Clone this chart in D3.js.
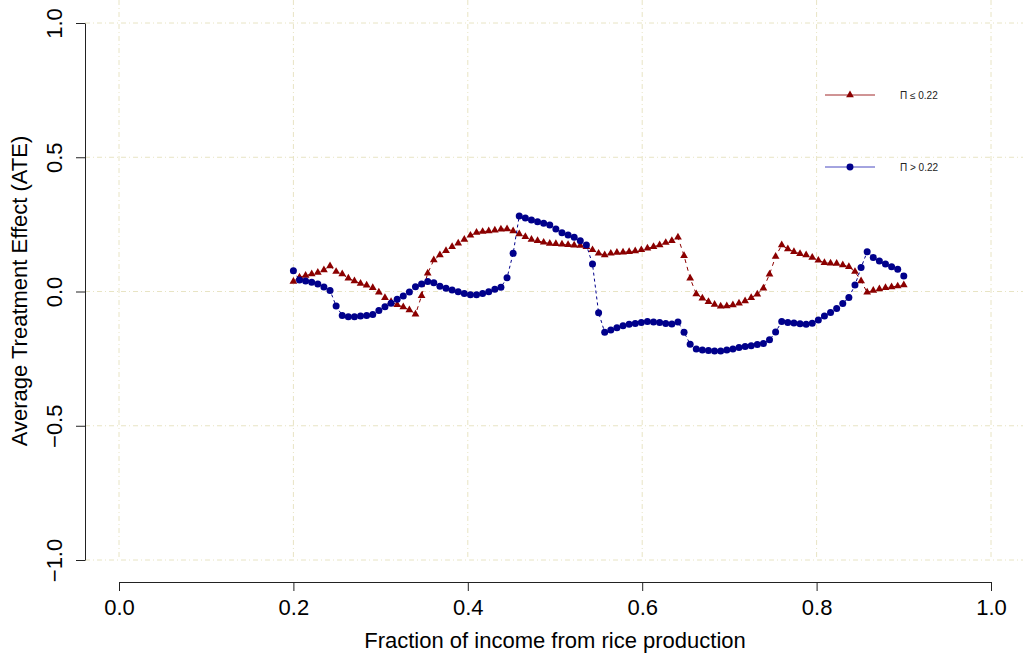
<!DOCTYPE html>
<html>
<head>
<meta charset="utf-8">
<script src="https://cdn.jsdelivr.net/npm/d3@7"></script>
<style>
  body { margin: 0; background: #fff; }
  svg { display: block; font-family: "Liberation Sans", Arial, sans-serif; }
</style>
</head>
<body>
<div id="chart"></div>
<script>
// grid of income fractions (0.2 .. 0.9, 101 evaluation points)
var fracs = d3.range(101).map(function(i){ return +(0.2 + i * 0.007).toFixed(3); });

// ATE for Pi <= 0.22
var ateLow = [
  0.037, 0.053, 0.060, 0.065, 0.071, 0.080, 0.095, 0.074, 0.065, 0.049,
  0.039, 0.030, 0.023, 0.014, -0.003, -0.023, -0.038, -0.049, -0.058, -0.069,
  -0.085, -0.016, 0.068, 0.117, 0.136, 0.152, 0.167, 0.180, 0.194, 0.209,
  0.220, 0.223, 0.225, 0.228, 0.232, 0.233, 0.225, 0.214, 0.204, 0.194,
  0.189, 0.183, 0.179, 0.178, 0.176, 0.174, 0.172, 0.171, 0.167, 0.155,
  0.142, 0.136, 0.142, 0.145, 0.146, 0.148, 0.151, 0.155, 0.161, 0.167,
  0.173, 0.182, 0.189, 0.202, 0.133, 0.049, -0.009, -0.025, -0.038, -0.048,
  -0.055, -0.054, -0.050, -0.044, -0.035, -0.023, -0.010, 0.012, 0.064, 0.130,
  0.173, 0.158, 0.148, 0.141, 0.136, 0.127, 0.116, 0.107, 0.105, 0.104,
  0.099, 0.092, 0.074, 0.039, -0.003, 0.004, 0.009, 0.014, 0.017, 0.020,
  0.024
];

// ATE for Pi > 0.22
var ateHigh = [
  0.077, 0.043, 0.039, 0.034, 0.028, 0.017, 0.004, -0.054, -0.089, -0.094,
  -0.094, -0.091, -0.089, -0.086, -0.071, -0.057, -0.044, -0.029, -0.017, -0.002,
  0.018, 0.028, 0.037, 0.033, 0.020, 0.012, 0.006, -0.001, -0.007, -0.012,
  -0.012, -0.007, -0.001, 0.008, 0.016, 0.051, 0.142, 0.281, 0.274, 0.266,
  0.260, 0.254, 0.248, 0.233, 0.219, 0.210, 0.202, 0.189, 0.173, 0.102,
  -0.079, -0.152, -0.143, -0.135, -0.128, -0.122, -0.119, -0.115, -0.112, -0.114,
  -0.115, -0.119, -0.121, -0.114, -0.152, -0.196, -0.214, -0.218, -0.220, -0.222,
  -0.222, -0.218, -0.214, -0.209, -0.205, -0.202, -0.197, -0.194, -0.180, -0.151,
  -0.112, -0.115, -0.117, -0.120, -0.122, -0.118, -0.106, -0.091, -0.078, -0.063,
  -0.045, -0.022, 0.024, 0.089, 0.148, 0.127, 0.114, 0.102, 0.092, 0.083,
  0.058
];

var xTicks = [0, 0.2, 0.4, 0.6, 0.8, 1.0];
var yTicks = [-1, -0.5, 0, 0.5, 1];
var legendLabels = ["\u03A0 \u2264 0.22", "\u03A0 > 0.22"];

var width = 1023, height = 656;
var red = "#8b0000", blue = "#00008b", gridCol = "#e8e4c4";

var svg = d3.select("#chart").append("svg")
	.attr("width", width)
	.attr("height", height);

var x = d3.scaleLinear().domain([0, 1]).range([119, 991]);
var y = d3.scaleLinear().domain([-1, 1]).range([560, 23]);
var fmt = d3.format(".1f");

// grid
svg.append("g").selectAll("line").data(xTicks).enter().append("line")
	.attr("x1", function(d){ return x(d); })
	.attr("x2", function(d){ return x(d); })
	.attr("y1", 0)
	.attr("y2", y(-1))
	.attr("stroke", gridCol)
	.attr("stroke-dasharray", "5,3,1,3");
svg.append("g").selectAll("line").data(yTicks).enter().append("line")
	.attr("x1", 85)
	.attr("x2", width)
	.attr("y1", function(d){ return y(d); })
	.attr("y2", function(d){ return y(d); })
	.attr("stroke", gridCol)
	.attr("stroke-dasharray", "5,3,1,3");

// axes
var xAxis = svg.append("g")
	.attr("transform", "translate(0,582)")
	.call(d3.axisBottom(x).tickValues(xTicks).tickFormat(fmt).tickSize(9).tickSizeOuter(0));
xAxis.selectAll("text").attr("font-size", 22).attr("fill", "#000").attr("dy", "0.95em");

var yAxis = svg.append("g")
	.attr("transform", "translate(85,0)")
	.call(d3.axisLeft(y).tickValues(yTicks).tickFormat(fmt).tickSize(9).tickSizeOuter(0));
yAxis.selectAll("text")
	.attr("font-size", 22)
	.attr("fill", "#000")
	.attr("text-anchor", "middle")
	.attr("x", null).attr("dy", null)
	.attr("transform", "translate(-23,0) rotate(-90)");
svg.selectAll(".domain, .tick line").attr("stroke", "#222");
svg.selectAll(".tick text").attr("font-family", "Liberation Sans, Arial, sans-serif");

// titles
svg.append("text")
	.attr("x", 555).attr("y", 648)
	.attr("text-anchor", "middle")
	.attr("font-size", 22)
	.text("Fraction of income from rice production");
svg.append("text")
	.attr("transform", "translate(27,291) rotate(-90)")
	.attr("text-anchor", "middle")
	.attr("font-size", 22)
	.text("Average Treatment Effect (ATE)");

var line = d3.line()
	.x(function(d){ return x(d[0]); })
	.y(function(d){ return y(d[1]); });

var lowPts = fracs.map(function(f, i){ return [f, ateLow[i]]; });
var highPts = fracs.map(function(f, i){ return [f, ateHigh[i]]; });

// Pi <= 0.22
svg.append("path").datum(lowPts)
	.attr("d", line)
	.attr("fill", "none")
	.attr("stroke", red)
	.attr("stroke-dasharray", "4,4");
svg.append("g").selectAll("path").data(lowPts).enter().append("path")
	.attr("d", d3.symbol(d3.symbolTriangle, 26))
	.attr("transform", function(d){ return "translate(" + x(d[0]) + "," + y(d[1]) + ")"; })
	.attr("fill", red);

// Pi > 0.22
svg.append("path").datum(highPts)
	.attr("d", line)
	.attr("fill", "none")
	.attr("stroke", blue)
	.attr("stroke-dasharray", "3,3");
svg.append("g").selectAll("circle").data(highPts).enter().append("circle")
	.attr("cx", function(d){ return x(d[0]); })
	.attr("cy", function(d){ return y(d[1]); })
	.attr("r", 3.5)
	.attr("fill", blue);

// legend
var leg = [{y: 95, col: "#a0282a", sym: d3.symbolTriangle, fill: red},
           {y: 167, col: "#4848c0", sym: d3.symbolCircle, fill: blue}];
leg.forEach(function(l, i){
	svg.append("line")
		.attr("x1", 825).attr("x2", 875)
		.attr("y1", l.y).attr("y2", l.y)
		.attr("stroke", l.col);
	svg.append("path")
		.attr("d", d3.symbol(l.sym, i == 0 ? 26 : 38))
		.attr("transform", "translate(850," + l.y + ")")
		.attr("fill", l.fill);
	svg.append("text")
		.attr("x", 900).attr("y", l.y + 3.5)
		.attr("font-size", 10)
		.attr("fill", "#222")
		.text(legendLabels[i]);
});
</script>
</body>
</html>
